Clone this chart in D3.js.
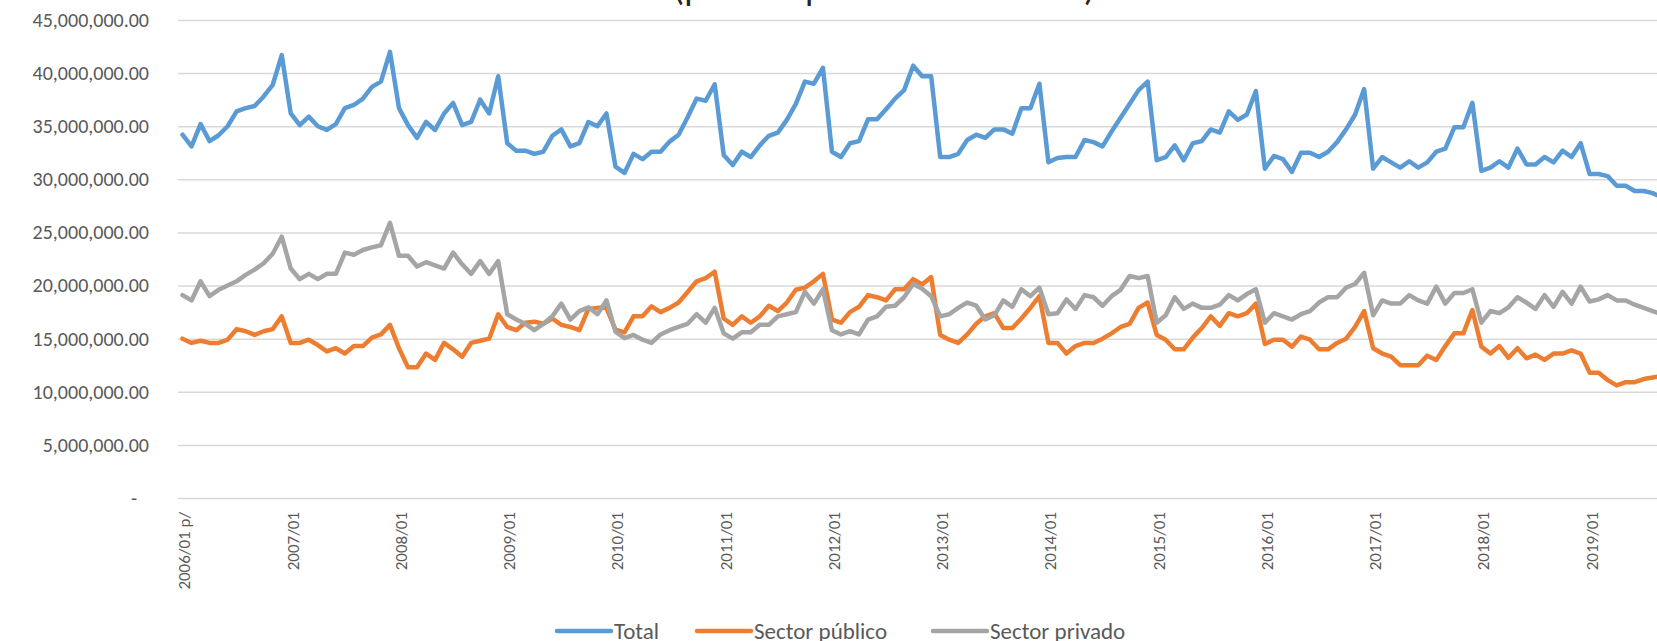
<!DOCTYPE html>
<html>
<head>
    <meta charset="utf-8">
    <script src="https://cdn.jsdelivr.net/npm/d3@7"></script>
    <style>
        body { margin: 0; background: #ffffff; }
        #canvas { width: 1657px; height: 641px; overflow: hidden; }
        text { font-family: Carlito, Calibri, Lato, sans-serif; fill: #595959; }
        .grid line { stroke: #d9d9d9; stroke-width: 1.5; }
        .grid .domain { display: none; }
        .ylab text { font-size: 20px; }
        .xlab { font-size: 17px; }
        .legend text { font-size: 23px; }
        .title { font-size: 37px; fill: #262626; }
        .series { fill: none; stroke-width: 4.5; stroke-linejoin: round; stroke-linecap: round; }
        .total { stroke: #5b9bd5; }
        .publico { stroke: #ed7d31; }
        .privado { stroke: #a5a5a5; }
    </style>
    <script>
        // values in millions, monthly from 2006/01
        var startYear = 2006;
        var yearLabels = ['2006/01 p/', '2007/01', '2008/01', '2009/01', '2010/01', '2011/01', '2012/01',
                          '2013/01', '2014/01', '2015/01', '2016/01', '2017/01', '2018/01', '2019/01'];
        var seriesNames = ['Total', 'Sector público', 'Sector privado'];
        var yTicks = [0, 5, 10, 15, 20, 25, 30, 35, 40, 45];

        var total = [
            34.2, 33.1, 35.2, 33.6, 34.15, 35.0, 36.4, 36.7, 36.9, 37.8, 38.9, 41.7,
            36.2, 35.1, 35.9, 35.0, 34.65, 35.2, 36.7, 37.0, 37.6, 38.7, 39.2, 42.0,
            36.7, 35.1, 33.9, 35.4, 34.65, 36.2, 37.2, 35.1, 35.4, 37.5, 36.2, 39.7,
            33.4, 32.7, 32.7, 32.4, 32.6, 34.1, 34.7, 33.1, 33.4, 35.4, 35.0, 36.2,
            31.2, 30.6, 32.4, 31.9, 32.6, 32.6, 33.55, 34.2, 35.85, 37.6, 37.4, 38.95,
            32.3, 31.35, 32.6, 32.1, 33.2, 34.1, 34.4, 35.6, 37.1, 39.2, 39.0, 40.5,
            32.6, 32.1, 33.4, 33.6, 35.65, 35.65, 36.6, 37.6, 38.4, 40.7, 39.7, 39.7,
            32.1, 32.1, 32.4, 33.7, 34.2, 33.9, 34.7, 34.7, 34.3, 36.7, 36.7, 39.0,
            31.6, 32.0, 32.1, 32.1, 33.7, 33.5, 33.1, 34.5, 35.8, 37.1, 38.4, 39.2,
            31.8, 32.1, 33.2, 31.8, 33.4, 33.6, 34.7, 34.4, 36.4, 35.6, 36.1, 38.3,
            31.0, 32.2, 31.9, 30.7, 32.5, 32.5, 32.1, 32.6, 33.5, 34.7, 36.1, 38.5,
            31.0, 32.1, 31.6, 31.1, 31.7, 31.1, 31.6, 32.6, 32.9, 34.9, 34.9, 37.2,
            30.8, 31.1, 31.7, 31.1, 32.9, 31.4, 31.4, 32.1, 31.6, 32.7, 32.1, 33.4,
            30.5, 30.5, 30.3, 29.4, 29.4, 28.9, 28.9, 28.7, 28.3
        ];
        var publico = [
            15.0, 14.6, 14.8, 14.6, 14.6, 14.9, 15.9, 15.7, 15.35, 15.7, 15.9, 17.1,
            14.6, 14.6, 14.9, 14.4, 13.8, 14.1, 13.6, 14.3, 14.3, 15.1, 15.4, 16.3,
            14.1, 12.3, 12.3, 13.6, 13.0, 14.6, 14.0, 13.3, 14.6, 14.8, 15.0, 17.3,
            16.1, 15.8, 16.5, 16.6, 16.4, 16.9, 16.3, 16.1, 15.8, 17.8, 17.9, 17.9,
            15.85, 15.6, 17.1, 17.1, 18.05, 17.5, 17.9, 18.4, 19.4, 20.4, 20.7, 21.3,
            16.9, 16.3, 17.1, 16.5, 17.1, 18.1, 17.6, 18.4, 19.6, 19.8, 20.4, 21.1,
            16.8, 16.5, 17.5, 18.0, 19.1, 18.9, 18.6, 19.65, 19.65, 20.6, 20.1, 20.8,
            15.35, 14.9, 14.6, 15.4, 16.4, 17.1, 17.4, 16.0, 16.0, 16.9, 17.9, 19.0,
            14.6, 14.6, 13.6, 14.3, 14.6, 14.6, 15.0, 15.5, 16.1, 16.4, 17.9, 18.4,
            15.35, 14.9, 14.0, 14.0, 15.1, 16.0, 17.1, 16.2, 17.4, 17.1, 17.4, 18.3,
            14.5, 14.9, 14.9, 14.25, 15.2, 14.9, 14.0, 14.0, 14.6, 15.0, 16.1, 17.6,
            14.1, 13.6, 13.3, 12.5, 12.5, 12.5, 13.4, 13.0, 14.3, 15.5, 15.5, 17.7,
            14.25, 13.6, 14.3, 13.2, 14.1, 13.15, 13.5, 13.0, 13.6, 13.6, 13.9, 13.6,
            11.8, 11.8, 11.1, 10.6, 10.9, 10.9, 11.2, 11.35, 11.5
        ];
        var privado = [
            19.1, 18.6, 20.4, 19.0, 19.6, 20.0, 20.4, 21.0, 21.5, 22.1, 23.0, 24.6,
            21.6, 20.6, 21.1, 20.6, 21.1, 21.1, 23.1, 22.9, 23.35, 23.6, 23.8, 25.9,
            22.8, 22.8, 21.8, 22.2, 21.9, 21.6, 23.1, 22.0, 21.1, 22.3, 21.1, 22.3,
            17.3, 16.8, 16.4, 15.8, 16.4, 17.1, 18.3, 16.8, 17.6, 17.95, 17.3, 18.6,
            15.65, 15.05, 15.35, 14.9, 14.6, 15.4, 15.8, 16.1, 16.4, 17.3, 16.5, 17.9,
            15.5, 15.0, 15.6, 15.6, 16.3, 16.3, 17.1, 17.3, 17.5, 19.4, 18.3, 19.65,
            15.8, 15.4, 15.7, 15.4, 16.8, 17.1, 18.0, 18.1, 18.9, 20.15, 19.7, 19.0,
            17.1, 17.3, 17.9, 18.4, 18.1, 16.8, 17.2, 18.6, 18.0, 19.65, 19.0, 19.8,
            17.3, 17.4, 18.7, 17.8, 19.1, 18.9, 18.1, 19.0, 19.6, 20.9, 20.7, 20.9,
            16.5, 17.2, 18.9, 17.8, 18.3, 17.9, 17.9, 18.2, 19.1, 18.6, 19.2, 19.65,
            16.5, 17.4, 17.1, 16.8, 17.3, 17.6, 18.4, 18.9, 18.9, 19.8, 20.15, 21.2,
            17.2, 18.6, 18.3, 18.3, 19.1, 18.6, 18.3, 19.9, 18.3, 19.3, 19.3, 19.65,
            16.5, 17.6, 17.4, 17.95, 18.9, 18.4, 17.8, 19.1, 18.0, 19.4, 18.3, 19.9,
            18.5, 18.7, 19.1, 18.6, 18.6, 18.2, 17.9, 17.6, 17.3
        ];

        function init()
        {
            var width = 1657, height = 641;
            var left = 178, top = 20, bottom = 498, step = 9.02;

            var months = total.map(function(d, i)
            {
                var m = i % 12 + 1;
                return (startYear + Math.floor(i / 12)) + '/' + (m < 10 ? '0' + m : m);
            });

            var x = d3.scaleBand().domain(months).range([left, left + months.length * step]);
            var cx = function(i) { return x(months[i]) + x.bandwidth() / 2; };
            var y = d3.scaleLinear().domain([0, 45]).range([bottom, top]);

            var svg = d3.select('#canvas').append('svg')
                .attr('width', width)
                .attr('height', height);

            // title, only the descenders of its last line are left inside the picture
            svg.append('text')
                .attr('class', 'title')
                .attr('x', 884)
                .attr('y', 0)
                .attr('text-anchor', 'middle')
                .text('(pesos a precios constantes)');

            var fmt = d3.format(',.2f');
            var grid = svg.append('g')
                .attr('class', 'grid ylab')
                .attr('transform', 'translate(' + left + ',0)')
                .call(d3.axisLeft(y)
                    .tickValues(yTicks)
                    .tickSize(-(width - left))
                    .tickPadding(29)
                    .tickFormat(function(v) { return v === 0 ? '-' : fmt(v * 1e6); }));
            grid.selectAll('.tick text').attr('fill', '#595959')
                .attr('dx', function(v) { return v === 0 ? -12 : 0; });

            // january labels
            svg.append('g').selectAll('text')
                .data(yearLabels)
                .enter().append('text')
                .attr('class', 'xlab')
                .attr('text-anchor', 'end')
                .attr('dy', '0.35em')
                .attr('transform', function(d, k) { return 'translate(' + (cx(k * 12) + 2) + ',512) rotate(-90)'; })
                .text(function(d) { return d; });

            var line = d3.line()
                .x(function(d, i) { return cx(i); })
                .y(function(d) { return y(d); });

            var series = [total, publico, privado];
            var classes = ['total', 'publico', 'privado'];

            svg.append('g').selectAll('path')
                .data(series)
                .enter().append('path')
                .attr('class', function(d, k) { return 'series ' + classes[k]; })
                .attr('d', line);

            // legend
            var legX = [557, 697, 933];
            var legend = svg.append('g').attr('class', 'legend')
                .selectAll('g')
                .data(seriesNames)
                .enter().append('g')
                .attr('transform', function(d, k) { return 'translate(' + legX[k] + ',631)'; });
            legend.append('line')
                .attr('class', function(d, k) { return 'series ' + classes[k]; })
                .attr('x1', 0).attr('x2', 54);
            legend.append('text')
                .attr('x', 57)
                .attr('y', 8)
                .text(function(d) { return d; });
        }
        window.addEventListener('load', init, false);
    </script>
</head>
<body>
    <div id="canvas"></div>
</body>
</html>
